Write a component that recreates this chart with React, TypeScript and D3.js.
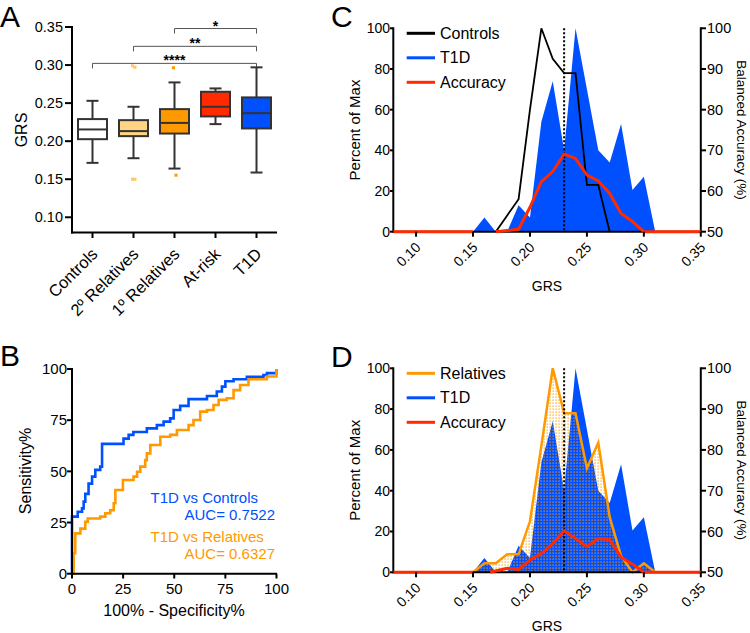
import React from "react";
import * as d3 from "d3";

const FONT = '"Liberation Sans", Arial, Helvetica, sans-serif';
const BLUE = "#0050ff";
const ORANGE = "#ff9900";
const RED = "#ff2a00";

// ---- panel A: GRS by group (box plots)
const groups = ["Controls", "2º Relatives", "1º Relatives", "At-risk", "T1D"];
const whiskerLow = [0.1715, 0.1776, 0.164, 0.2224, 0.1588];
const q1 = [0.2026, 0.2066, 0.21, 0.2325, 0.2167];
const median = [0.2154, 0.2132, 0.224, 0.2452, 0.2368];
const q3 = [0.229, 0.2276, 0.2421, 0.2649, 0.2575];
const whiskerHigh = [0.253, 0.2452, 0.2772, 0.2693, 0.297];
const outliers = [[], [0.299, 0.297, 0.15, 0.15], [0.2965, 0.1553], [], []];
const boxFill = ["#ffffff", "#ffd485", ORANGE, RED, BLUE];
const dotFill = ["#ffffff", "#ffc766", ORANGE, RED, BLUE];
const grsTicks = [0.1, 0.15, 0.2, 0.25, 0.3, 0.35];

const sigFrom = ["1º Relatives", "2º Relatives", "Controls"];
const sigTo = "T1D";
const sigLevel = [0.348, 0.3246, 0.3022];
const sigText = ["*", "**", "****"];

// ---- panel B: ROC curves (%)
const ctrlFpr = [0, 0, 2.8, 4.9, 5.7, 6.5, 8.1, 9.8, 11.4, 13.8, 14.7, 22.8, 25.2, 27.7, 30, 36.6, 41.5, 44.8, 48, 49.7, 52.9, 57, 62.7, 66, 70.8, 73.3, 75, 79, 85.5, 93.6, 95.3, 100];
const ctrlTpr = [0, 27.9, 30.3, 31.9, 35.2, 39, 44, 47.4, 50.7, 52.3, 63.4, 63.4, 66, 67.8, 69.2, 71, 72.6, 74.3, 75.9, 80, 82, 85.3, 85.3, 86.8, 89, 91.4, 94, 95, 96.2, 97, 98, 100];
const relFpr = [0, 0.8, 1.6, 4.1, 6.5, 7.7, 13.8, 16.3, 18.7, 20.4, 21.2, 23.6, 24.9, 30.1, 31.8, 33.4, 35.8, 36.6, 38.3, 43.2, 48, 51.3, 57, 59.4, 62.7, 66, 69.2, 71.7, 75.7, 79, 82.2, 86.3, 95.3, 100];
const relTpr = [0, 10, 19.7, 22, 25.4, 27, 27.9, 29.5, 31, 34.4, 40.9, 40.9, 45.8, 47.4, 49.8, 52.3, 55.5, 58.8, 62.9, 66.9, 67.8, 70.2, 72.6, 75.1, 79.2, 80, 82.4, 84.9, 85.7, 89.7, 92.2, 95, 96.3, 100];
const rocTicks = [0, 25, 50, 75, 100];

// ---- panels C/D: GRS distributions (percent of max) and balanced accuracy
const bins = [0.14, 0.15, 0.16, 0.17, 0.18, 0.19, 0.2, 0.21, 0.22, 0.23, 0.24, 0.25, 0.26, 0.27, 0.28, 0.29, 0.3, 0.31, 0.32];
const t1dPct = [0, 0, 7, 0, 0, 13, 7, 54, 74, 40, 100, 70, 40, 34, 53, 20.5, 27, 0, 0];
const controlsPct = [null, null, null, 0, 8, 16, 60, 100, 85, 78, 78, 23, 23, 0, null, null, null, null, null];
const relativesPct = [null, 0, 4.4, 4.4, 8.8, 8.8, 25, 62, 100, 78, 78, 51, 63.5, 27, 8, 0, 4.4, 0, null];

const accGrsC = [0.08, 0.15, 0.16, 0.17, 0.18, 0.19, 0.2, 0.21, 0.22, 0.23, 0.24, 0.25, 0.26, 0.27, 0.28, 0.29, 0.3, 0.35];
const accC = [50, 50, null, 50, 50.3, 50.6, 56, 62.3, 64.8, 69.1, 68, 63.9, 62.5, 59.4, 54.5, 52.5, 50, 50];
const accGrsD = [0.08, 0.15, 0.16, 0.165, 0.18, 0.19, 0.2, 0.21, 0.22, 0.23, 0.24, 0.25, 0.26, 0.27, 0.28, 0.29, 0.3, 0.35];
const accD = [50, 50, null, 50, 51, 50.7, 53, 54.6, 57, 60.2, 58.3, 56.3, 58.3, 58, 53.7, 52, 50, 50];

const cutoff = 0.23;
const pctTicks = [0, 20, 40, 60, 80, 100];
const accTicks = [50, 60, 70, 80, 90, 100];

const PanelA = () => {
  const x = d3.scaleBand().domain(groups).range([72, 277]);
  const y = d3.scaleLinear().domain([0.08, 0.35]).range([232.5, 27]);
  const cx = (g) => x(g) + x.bandwidth() / 2;
  const bw = 29;
  const cap = 12;
  return (
    <g>
      <text x={0} y={27} fontSize={30}>A</text>
      {/* brackets */}
      {sigFrom.map((g, i) => (
        <g key={g}>
          <path d={`M${cx(g)},${y(sigLevel[i]) + 5}V${y(sigLevel[i])}H${cx(sigTo)}V${y(sigLevel[i]) + 5}`} fill="none" stroke="#555" strokeWidth={1} />
          <text x={(cx(g) + cx(sigTo)) / 2} y={y(sigLevel[i]) + 2} fontSize={14} fontWeight="bold" textAnchor="middle">{sigText[i]}</text>
        </g>
      ))}
      {groups.map((g, i) => {
        const c = cx(g);
        return (
          <g key={g} stroke="#333" strokeWidth={2}>
            <line x1={c} x2={c} y1={y(whiskerHigh[i])} y2={y(q3[i])} />
            <line x1={c} x2={c} y1={y(q1[i])} y2={y(whiskerLow[i])} />
            <line x1={c - cap / 2} x2={c + cap / 2} y1={y(whiskerHigh[i])} y2={y(whiskerHigh[i])} />
            <line x1={c - cap / 2} x2={c + cap / 2} y1={y(whiskerLow[i])} y2={y(whiskerLow[i])} />
            <rect x={c - bw / 2} y={y(q3[i])} width={bw} height={y(q1[i]) - y(q3[i])} fill={boxFill[i]} />
            <line x1={c - bw / 2} x2={c + bw / 2} y1={y(median[i])} y2={y(median[i])} />
            {outliers[i].map((v, j) => (
              <rect key={j} x={c - 1.5 + (j % 2 === 0 ? -1 : 1.5)} y={y(v) - 1.5} width={3} height={3} fill={dotFill[i]} stroke="none" />
            ))}
          </g>
        );
      })}
      {/* axes */}
      <line x1={72} x2={72} y1={26} y2={233.5} stroke="#000" strokeWidth={2} />
      <line x1={71} x2={277} y1={232.5} y2={232.5} stroke="#000" strokeWidth={2} />
      {grsTicks.map((t) => (
        <g key={t}>
          <line x1={65} x2={72} y1={y(t)} y2={y(t)} stroke="#000" strokeWidth={2} />
          <text x={63} y={y(t)} dy="0.35em" fontSize={14.5} textAnchor="end">{t.toFixed(2)}</text>
        </g>
      ))}
      {groups.map((g) => (
        <g key={g}>
          <line x1={cx(g)} x2={cx(g)} y1={232.5} y2={238} stroke="#000" strokeWidth={2} />
          <text transform={`translate(${cx(g) + 2},${251}) rotate(-45)`} dy="0.35em" fontSize={16.5} textAnchor="end">{g}</text>
        </g>
      ))}
      <text transform="translate(27,130) rotate(-90)" fontSize={16} textAnchor="middle">GRS</text>
    </g>
  );
};

const PanelB = () => {
  const x = d3.scaleLinear().domain([0, 100]).range([72, 276.5]);
  const y = d3.scaleLinear().domain([0, 100]).range([573.7, 369]);
  const line = d3.line().x((d) => x(d[0])).y((d) => y(d[1])).curve(d3.curveStepAfter);
  const ctrl = ctrlFpr.map((v, i) => [v, ctrlTpr[i]]);
  const rel = relFpr.map((v, i) => [v, relTpr[i]]);
  return (
    <g>
      <text x={0} y={366} fontSize={30}>B</text>
      <path d={line(ctrl)} fill="none" stroke={BLUE} strokeWidth={2.6} />
      <path d={line(rel)} fill="none" stroke={ORANGE} strokeWidth={2.6} />
      <line x1={72} x2={72} y1={368} y2={574.7} stroke="#000" strokeWidth={2} />
      <line x1={71} x2={277} y1={573.7} y2={573.7} stroke="#000" strokeWidth={2} />
      {rocTicks.map((t) => (
        <g key={t}>
          <line x1={67} x2={72} y1={y(t)} y2={y(t)} stroke="#000" strokeWidth={2} />
          <text x={67} y={y(t)} dy="0.35em" fontSize={15} textAnchor="end">{t}</text>
          <line x1={x(t)} x2={x(t)} y1={573.7} y2={578.5} stroke="#000" strokeWidth={2} />
          <text x={x(t)} y={594} fontSize={15} textAnchor="middle">{t}</text>
        </g>
      ))}
      <text transform="translate(31,471) rotate(-90)" fontSize={16} textAnchor="middle">Sensitivity%</text>
      <text x={174} y={616} fontSize={16} textAnchor="middle">100% - Specificity%</text>
      <text x={150.5} y={502.5} fontSize={15} fill={BLUE}>T1D vs Controls</text>
      <text x={275} y={520} fontSize={15} fill={BLUE} textAnchor="end">AUC= 0.7522</text>
      <text x={150.5} y={541.5} fontSize={15} fill={ORANGE}>T1D vs Relatives</text>
      <text x={275} y={559} fontSize={15} fill={ORANGE} textAnchor="end">AUC= 0.6327</text>
    </g>
  );
};

const DistPanel = ({ letter, top, bottom, refName, refPct, refColor, refFill, acc, accGrs, labelY }) => {
  const x = d3.scaleLinear().domain([0.08, 0.35]).range([393.3, 700.8]);
  const y = d3.scaleLinear().domain([0, 100]).range([bottom, top]);
  const yAcc = d3.scaleLinear().domain([50, 100]).range([bottom, top]);
  const area = d3.area().defined((d) => d[1] != null).x((d) => x(d[0])).y0(bottom).y1((d) => y(d[1]));
  const line = d3.line().defined((d) => d[1] != null).x((d) => x(d[0])).y((d) => y(d[1]));
  const accLine = d3.line().defined((d) => d[1] != null).x((d) => x(d[0])).y((d) => yAcc(d[1]));
  const t1d = bins.map((b, i) => [b, t1dPct[i]]);
  const ref = bins.map((b, i) => [b, refPct[i]]);
  const accPts = accGrs.map((b, i) => [b, acc[i]]);
  const mid = (top + bottom) / 2;
  const legend = [
    [refName, refColor],
    ["T1D", BLUE],
    ["Accuracy", RED],
  ];
  return (
    <g>
      <text x={331} y={top - 1} fontSize={30}>{letter}</text>
      <path d={area(t1d)} fill={BLUE} />
      {refFill && <path d={area(ref)} fill="url(#reldots)" />}
      <path d={line(ref)} fill="none" stroke={refColor} strokeWidth={refFill ? 2.5 : 1.8} strokeLinejoin="miter" />
      <line x1={x(cutoff)} x2={x(cutoff)} y1={top} y2={bottom} stroke="#000" strokeWidth={2} strokeDasharray="2,2" />
      {/* axes */}
      <line x1={393.3} x2={393.3} y1={top - 1} y2={bottom + 1} stroke="#000" strokeWidth={2} />
      <line x1={700.8} x2={700.8} y1={top - 1} y2={bottom + 1} stroke="#000" strokeWidth={2} />
      <line x1={393.3} x2={700.8} y1={bottom} y2={bottom} stroke="#000" strokeWidth={2} />
      <path d={accLine(accPts)} fill="none" stroke={RED} strokeWidth={3} />
      {pctTicks.map((t) => (
        <g key={t}>
          <line x1={390} x2={393.3} y1={y(t)} y2={y(t)} stroke="#000" strokeWidth={2} />
          <text x={390} y={y(t)} dy="0.35em" fontSize={14} textAnchor="end">{t}</text>
        </g>
      ))}
      {accTicks.map((t) => (
        <g key={t}>
          <line x1={700.8} x2={706} y1={yAcc(t)} y2={yAcc(t)} stroke="#000" strokeWidth={2} />
          <text x={707} y={yAcc(t)} dy="0.35em" fontSize={14.5}>{t}</text>
        </g>
      ))}
      {grsTicks.map((t) => (
        <g key={t}>
          <line x1={x(t)} x2={x(t)} y1={bottom} y2={bottom + 5} stroke="#000" strokeWidth={2} />
          <text transform={`translate(${x(t) + 2},${bottom + 13}) rotate(-45)`} dy="0.35em" fontSize={14} textAnchor="end">{t.toFixed(2)}</text>
        </g>
      ))}
      <text x={547} y={labelY} fontSize={14} textAnchor="middle">GRS</text>
      <text transform={`translate(360,${mid}) rotate(-90)`} fontSize={15} textAnchor="middle">Percent of Max</text>
      <text transform={`translate(737,${mid}) rotate(90)`} fontSize={13.5} textAnchor="middle">Balanced Accuracy (%)</text>
      {legend.map(([name, col], i) => (
        <g key={name}>
          <line x1={406.7} x2={435} y1={top + 5 + i * 24.5} y2={top + 5 + i * 24.5} stroke={col} strokeWidth={3} />
          <text x={440} y={top + 5 + i * 24.5} dy="0.35em" fontSize={16}>{name}</text>
        </g>
      ))}
    </g>
  );
};

export default function App() {
  return (
    <svg width={750} height={633} style={{ position: "absolute", left: 0, top: 0, background: "#fff" }} fontFamily={FONT}>
      <defs>
        <pattern id="reldots" width={3} height={3} patternUnits="userSpaceOnUse">
          <rect x={0.5} y={0.5} width={1.2} height={1.2} fill={ORANGE} />
        </pattern>
      </defs>
      <PanelA />
      <PanelB />
      <DistPanel letter="C" top={28.3} bottom={231.7} refName="Controls" refPct={controlsPct} refColor="#000" refFill={false} acc={accC} accGrs={accGrsC} labelY={291} />
      <DistPanel letter="D" top={368.3} bottom={572.3} refName="Relatives" refPct={relativesPct} refColor={ORANGE} refFill={true} acc={accD} accGrs={accGrsD} labelY={631} />
    </svg>
  );
}
